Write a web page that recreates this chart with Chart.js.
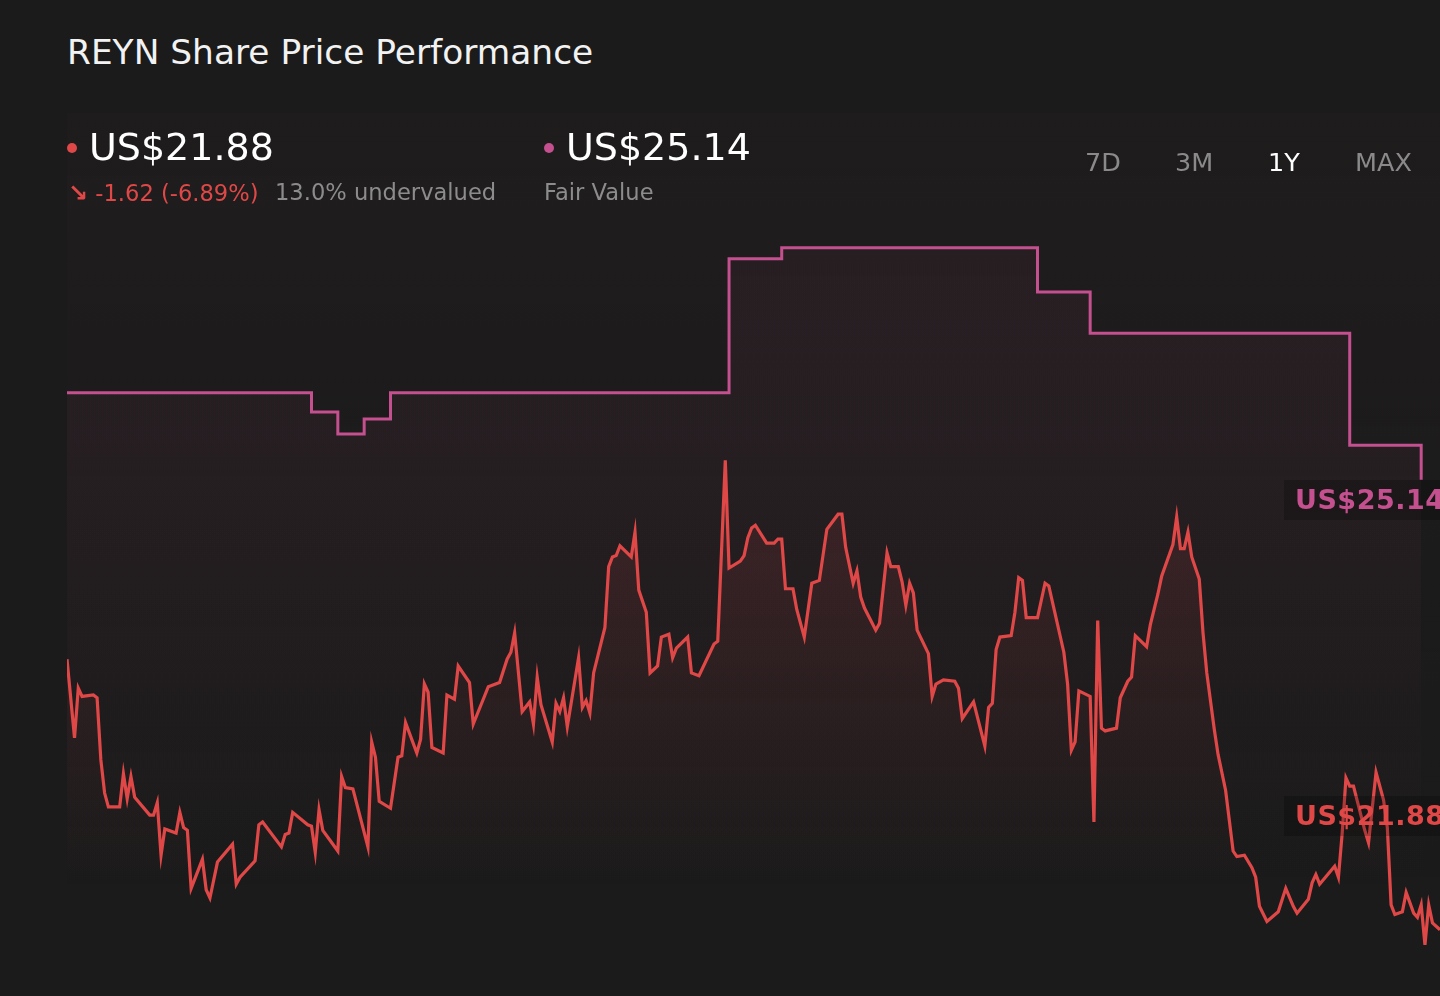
<!DOCTYPE html>
<html>
<head>
<meta charset="utf-8">
<script src="https://cdn.jsdelivr.net/npm/chart.js@4"></script>
<style>
  html, body { margin: 0; padding: 0; background: #1b1b1b; }
  body { width: 1440px; height: 996px; position: relative; overflow: hidden; font-family: "DejaVu Sans", sans-serif; }
  .abs { position: absolute; white-space: nowrap; }
  #title { left: 67px; top: 32px; font-size: 34.4px; color: #f2f2f2; }
  .dot { position: absolute; width: 10px; height: 10px; border-radius: 50%; }
  .big { font-size: 38px; color: #ffffff; }
  .sub { font-size: 22.6px; color: #8c8c8c; top: 179px; }
  .arrow { font-size: 24px; font-weight: bold; }
  .range { font-size: 25.5px; color: #8a8a8a; top: 147px; }
  .tag { position: absolute; left: 1284px; width: 170px; height: 40px; background: rgba(0,0,0,0.22);
         font-weight: bold; font-size: 27px; line-height: 40px; padding-left: 11px; box-sizing: border-box; letter-spacing: 0.5px; }
  #chartBox { position: absolute; left: 67px; top: 100px; width: 1373px; height: 896px; }
</style>
</head>
<body>
<div id="chartBox"><canvas id="priceChart" width="1373" height="896"></canvas></div>

<div id="title" class="abs">REYN Share Price Performance</div>

<div class="dot" style="left:67px; top:143px; background:#e04848;"></div>
<div class="abs big" style="left:89px; top:125px;">US$21.88</div>
<div class="abs sub" style="left:68px; color:#e04848;"><span class="arrow">↘</span> -1.62 (-6.89%)</div>
<div class="abs sub" style="left:275px;">13.0% undervalued</div>

<div class="dot" style="left:544px; top:143px; background:#c4508f;"></div>
<div class="abs big" style="left:566px; top:125px;">US$25.14</div>
<div class="abs sub" style="left:544px;">Fair Value</div>

<div class="abs range" style="left:1085px;">7D</div>
<div class="abs range" style="left:1175px;">3M</div>
<div class="abs range" style="left:1268px; color:#ffffff;">1Y</div>
<div class="abs range" style="left:1355px;">MAX</div>

<div class="tag" style="top:480px; color:#c4508f;">US$25.14</div>
<div class="tag" style="top:796px; color:#e04848;">US$21.88</div>

<script>
// days since start of the 1Y window
const priceDays = [
  0, 2, 3, 4, 7, 8, 9, 10, 11, 14, 15, 16, 17, 18, 22, 23, 24, 25, 26, 29,
  30, 31, 32, 33, 36, 37, 38, 40, 44, 45, 46, 50, 51, 52, 57, 58, 59, 60, 64, 65,
  66, 67, 68, 72, 73, 74, 76, 80, 81, 82, 83, 86, 88, 89, 90, 93, 94, 95, 96, 97,
  100, 101, 103, 104, 107, 108, 112, 115, 117, 118, 119, 121, 123, 124, 125, 126, 129, 130, 131, 132,
  133, 136, 137, 138, 139, 140, 143, 144, 145, 146, 147, 150, 151, 152, 154, 155, 157, 158, 160, 161,
  162, 165, 166, 168, 172, 173, 175, 176, 179, 180, 181, 182, 183, 186, 188, 189, 190, 191, 193, 194,
  196, 198, 200, 202, 205, 206, 207, 209, 210, 211, 212, 215, 216, 218, 219, 221, 222, 223, 224, 225,
  226, 229, 230, 231, 233, 236, 237, 238, 241, 244, 245, 246, 247, 248, 251, 252, 253, 254, 255, 258,
  260, 261, 265, 266, 267, 268, 269, 272, 273, 274, 275, 276, 279, 280, 282, 283, 284, 287, 288, 290,
  291, 294, 295, 296, 297, 298, 299, 301, 302, 303, 305, 306, 308, 310, 311, 313, 315, 316, 317, 319,
  322, 324, 326, 327, 330, 331, 332, 333, 337, 338, 339, 340, 341, 342, 345, 346, 348, 350, 351, 352,
  353, 355, 356, 358, 359, 360, 361, 362, 363, 365
];

const priceValues = [
  23.84, 23.27, 23.63, 23.57, 23.58, 23.56, 23.11, 22.87, 22.77, 22.77, 23.01, 22.83, 22.99, 22.84, 22.71, 22.71, 22.80, 22.42, 22.61, 22.58,
  22.73, 22.62, 22.60, 22.18, 22.39, 22.17, 22.11, 22.37, 22.50, 22.21, 22.26, 22.38, 22.64, 22.66, 22.48, 22.57, 22.58, 22.73, 22.64, 22.63,
  22.44, 22.75, 22.60, 22.45, 22.99, 22.91, 22.90, 22.48, 23.24, 23.13, 22.81, 22.76, 23.13, 23.14, 23.38, 23.16, 23.26, 23.66, 23.60, 23.20,
  23.16, 23.58, 23.55, 23.79, 23.67, 23.37, 23.64, 23.67, 23.84, 23.89, 24.03, 23.46, 23.53, 23.37, 23.71, 23.51, 23.24, 23.52, 23.46, 23.56,
  23.35, 23.85, 23.49, 23.54, 23.45, 23.74, 24.07, 24.51, 24.58, 24.59, 24.66, 24.58, 24.76, 24.34, 24.18, 23.74, 23.79, 24.00, 24.02, 23.85,
  23.92, 24.00, 23.74, 23.72, 23.95, 23.97, 25.28, 24.50, 24.55, 24.59, 24.72, 24.79, 24.81, 24.68, 24.68, 24.71, 24.71, 24.35, 24.35, 24.20,
  24.00, 24.39, 24.41, 24.78, 24.89, 24.89, 24.65, 24.39, 24.48, 24.29, 24.21, 24.05, 24.10, 24.61, 24.51, 24.51, 24.40, 24.23, 24.39, 24.32,
  24.05, 23.88, 23.57, 23.66, 23.69, 23.68, 23.63, 23.41, 23.53, 23.21, 23.49, 23.52, 23.91, 24.00, 24.01, 24.18, 24.43, 24.41, 24.14, 24.14,
  24.39, 24.37, 23.89, 23.66, 23.18, 23.24, 23.61, 23.57, 22.66, 24.12, 23.34, 23.32, 23.34, 23.56, 23.68, 23.71, 24.01, 23.93, 24.09, 24.31,
  24.44, 24.67, 24.87, 24.64, 24.64, 24.76, 24.58, 24.42, 24.03, 23.74, 23.33, 23.15, 22.89, 22.45, 22.41, 22.42, 22.33, 22.26, 22.05, 21.94,
  22.01, 22.18, 22.05, 22.00, 22.10, 22.22, 22.28, 22.21, 22.34, 22.26, 22.58, 22.98, 22.92, 22.92, 22.60, 22.51, 23.02, 22.82, 22.62, 22.06,
  21.99, 22.01, 22.15, 22.00, 21.97, 22.06, 21.77, 22.06, 21.93, 21.88
];

// fair value estimate changes (day it changes, new value)
const fairValueDays = [0, 65, 72, 79, 86, 176, 190, 258, 272, 341, 360];
const fairValues = [25.77, 25.63, 25.47, 25.58, 25.77, 26.74, 26.82, 26.50, 26.20, 25.39, 25.14];

const priceColor = '#e04848';
const fairColor = '#c4508f';

function fade(rgb, alphaTop) {
  return function(context) {
    const area = context.chart.chartArea;
    if (!area) return 'transparent';
    const g = context.chart.ctx.createLinearGradient(0, area.top + 340, 0, area.top + 790);
    g.addColorStop(0, 'rgba(' + rgb + ',' + alphaTop + ')');
    g.addColorStop(1, 'rgba(' + rgb + ',0)');
    return g;
  };
}

// faint panel behind the plot
const panelBg = {
  id: 'panelBg',
  beforeDraw(chart) {
    const ctx = chart.ctx;
    const g = ctx.createLinearGradient(0, 13, 0, 790);
    g.addColorStop(0, 'rgba(60,40,40,0.12)');
    g.addColorStop(1, 'rgba(60,40,40,0)');
    ctx.save();
    ctx.fillStyle = g;
    ctx.fillRect(0, 13, chart.width, 777);
    ctx.restore();
  }
};

const ctx = document.getElementById('priceChart').getContext('2d');
new Chart(ctx, {
  type: 'line',
  data: {
    datasets: [
      {
        label: 'Share Price',
        data: priceDays.map((d, i) => ({ x: d, y: priceValues[i] })),
        borderColor: priceColor,
        borderWidth: 3.2,
        pointRadius: 0,
        tension: 0,
        fill: 'start',
        backgroundColor: fade('224,72,72', 0.14),
        clip: false
      },
      {
        label: 'Fair Value',
        data: fairValueDays.map((d, i) => ({ x: d, y: fairValues[i] })),
        borderColor: fairColor,
        borderWidth: 3,
        pointRadius: 0,
        stepped: 'before',
        fill: 'start',
        backgroundColor: fade('196,80,143', 0.055),
        clip: false
      }
    ]
  },
  options: {
    responsive: false,
    animation: false,
    layout: { padding: 0 },
    plugins: {
      legend: { display: false },
      tooltip: { enabled: false }
    },
    scales: {
      x: { type: 'linear', min: 0, max: 365, display: false },
      y: { min: 21.40, max: 27.89, display: false }
    }
  },
  plugins: [panelBg]
});
</script>
</body>
</html>
